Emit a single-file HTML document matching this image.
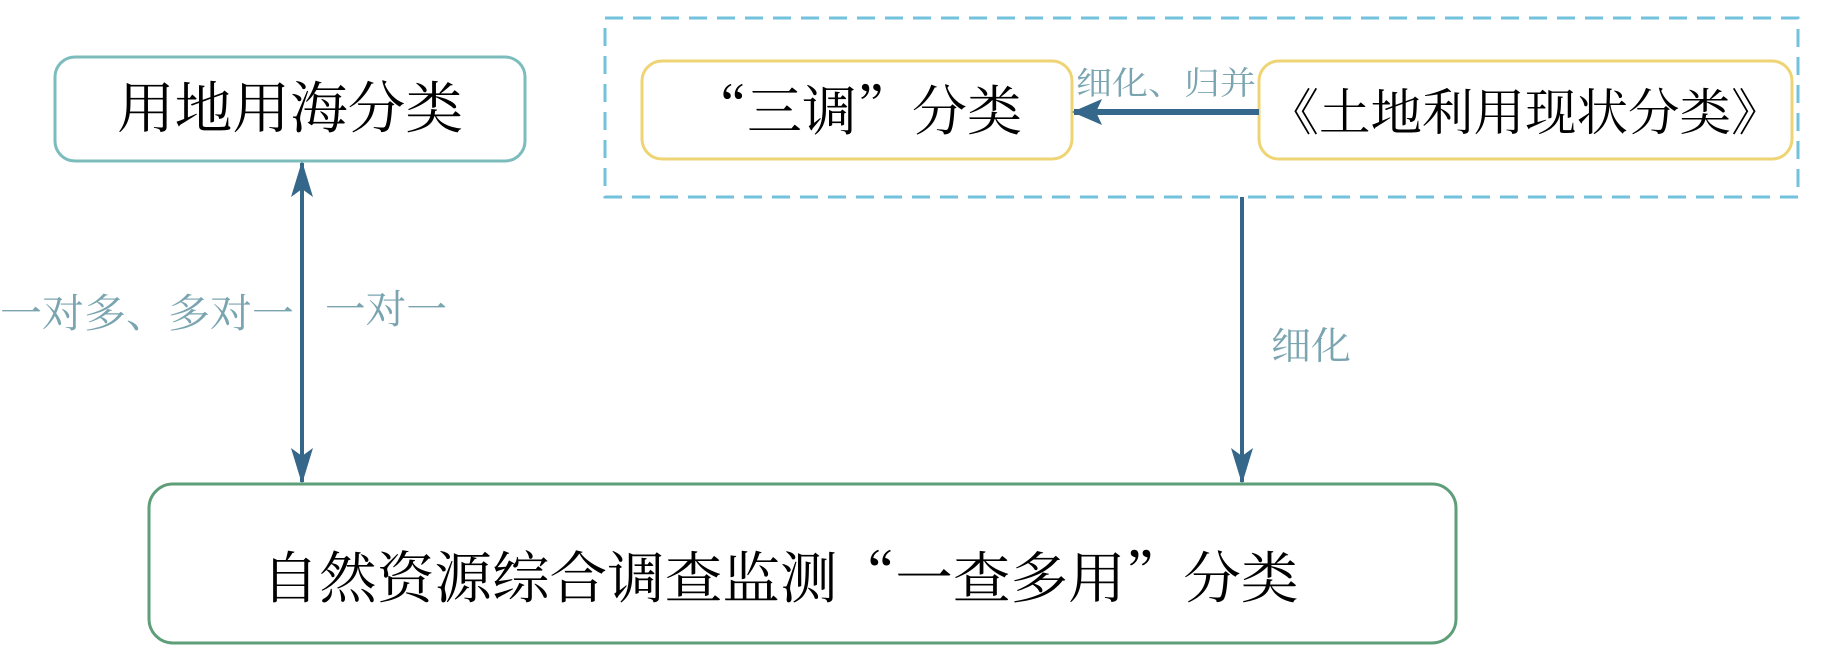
<!DOCTYPE html>
<html><head><meta charset="utf-8"><style>
html,body{margin:0;padding:0;background:#fff;}
svg{display:block;}
text{font-family:"Noto Serif CJK SC","Liberation Serif",serif;}
</style></head><body>
<svg width="1843" height="654" viewBox="0 0 1843 654" xmlns="http://www.w3.org/2000/svg">
<defs>
<marker id="ah" markerWidth="36" markerHeight="22" refX="34" refY="11" orient="auto" markerUnits="userSpaceOnUse" viewBox="0 0 36 22">
<path d="M0,0 L36,11 L0,22 L8,11 Z" fill="#34678a"/>
</marker>
<marker id="ahs" markerWidth="36" markerHeight="22" refX="2" refY="11" orient="auto" markerUnits="userSpaceOnUse" viewBox="0 0 36 22">
<path d="M36,0 L0,11 L36,22 L28,11 Z" fill="#34678a"/>
</marker>
<marker id="ahh" markerWidth="30" markerHeight="26" refX="28" refY="13" orient="auto" markerUnits="userSpaceOnUse" viewBox="0 0 30 26">
<path d="M0,0 L30,13 L0,26 L6,13 Z" fill="#34678a"/>
</marker>
</defs>
<rect x="605" y="18" width="1193" height="179" fill="none" stroke="#72c2dc" stroke-width="3" stroke-dasharray="18,10"/>
<rect x="55" y="57" width="470" height="104" rx="20" fill="#fff" stroke="#7cbcbd" stroke-width="3"/>
<text x="290" y="128" font-size="56" text-anchor="middle" fill="#000" textLength="346" lengthAdjust="spacingAndGlyphs">用地用海分类</text>
<rect x="642" y="61" width="430" height="98" rx="20" fill="#fff" stroke="#efd475" stroke-width="3"/>
<text x="857" y="130" font-size="54" text-anchor="middle" fill="#000" textLength="330" lengthAdjust="spacingAndGlyphs">“三调”分类</text>
<rect x="1259" y="61" width="533" height="98" rx="20" fill="#fff" stroke="#efd475" stroke-width="3"/>
<text x="1525" y="130" font-size="50" text-anchor="middle" fill="#000" textLength="515" lengthAdjust="spacingAndGlyphs">《土地利用现状分类》</text>
<line x1="1259" y1="112" x2="1074" y2="112" stroke="#34678a" stroke-width="6" marker-end="url(#ahh)"/>
<text x="1166" y="94" font-size="32" text-anchor="middle" fill="#7aa5b0" textLength="180" lengthAdjust="spacingAndGlyphs">细化、归并</text>
<line x1="1242" y1="197" x2="1242" y2="482" stroke="#34678a" stroke-width="4" marker-end="url(#ah)"/>
<text x="1271" y="359" font-size="38" fill="#7aa5b0" textLength="80" lengthAdjust="spacingAndGlyphs">细化</text>
<line x1="302" y1="163" x2="302" y2="482" stroke="#34678a" stroke-width="4" marker-start="url(#ahs)" marker-end="url(#ah)"/>
<text x="0" y="327" font-size="40" fill="#7aa5b0" textLength="294" lengthAdjust="spacingAndGlyphs">一对多、多对一</text>
<text x="325" y="323" font-size="40" fill="#7aa5b0" textLength="122" lengthAdjust="spacingAndGlyphs">一对一</text>
<rect x="149" y="484" width="1307" height="159" rx="24" fill="#fff" stroke="#5e9e78" stroke-width="3"/>
<text x="780" y="598" font-size="56" text-anchor="middle" fill="#000" textLength="1037" lengthAdjust="spacingAndGlyphs">自然资源综合调查监测“一查多用”分类</text>
</svg>
</body></html>
